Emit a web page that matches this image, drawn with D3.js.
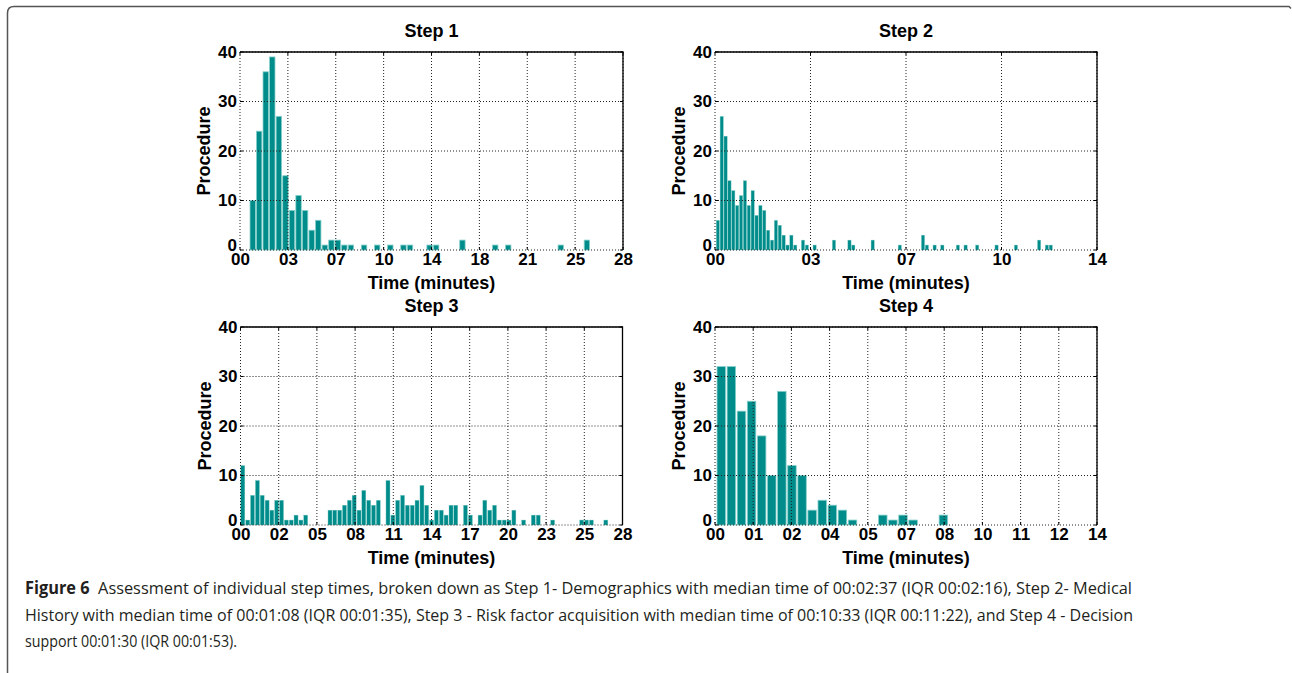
<!DOCTYPE html>
<html><head><meta charset="utf-8">
<script src="https://cdn.jsdelivr.net/npm/d3@7"></script>
<style>body{margin:0;background:#fff} svg{display:block}</style>
</head><body><svg id="c" width="1292" height="673"></svg>
<script>
// ---------- DATA ----------
const titles = ["Step 1", "Step 2", "Step 3", "Step 4"];
const xLabel = "Time (minutes)";
const yLabel = "Procedure";

// bin centres (minutes) and counts of procedures
const step1Times  = [0.93,1.40,1.88,2.36,2.84,3.32,3.80,4.28,4.76,5.24,5.72,6.20,6.68,7.15,7.63,8.11,9.07,10.03,10.99,11.95,12.43,13.86,14.34,16.26,18.66,19.61,23.45,25.36];
const step1Counts = [10,24,36,39,27,15,8,11,8,4,6,1,2,2,1,1,1,1,1,1,1,1,1,2,1,1,1,2];

const step2Times  = [0.104,0.246,0.388,0.530,0.671,0.813,0.955,1.097,1.239,1.381,1.523,1.665,1.806,1.948,2.090,2.232,2.374,2.516,2.658,2.800,2.941,3.225,3.367,3.651,4.360,4.928,5.069,5.779,6.772,7.623,7.765,8.049,8.332,8.900,9.184,9.609,10.319,11.028,11.879,12.163,12.305];
const step2Counts = [6,27,23,14,12,9,11,14,9,12,7,9,8,4,2,6,5,3,1,3,1,2,1,1,2,2,1,2,1,3,1,1,1,1,1,1,1,1,2,1,1];

const step3Times  = [0.17,0.53,0.88,1.24,1.59,1.95,2.30,2.65,3.01,3.36,3.72,4.07,4.43,4.78,6.56,6.91,7.27,7.62,7.98,8.33,8.69,9.04,9.40,9.75,10.10,10.81,11.17,11.52,11.88,12.23,12.59,12.94,13.30,13.65,14.01,14.36,14.72,15.07,15.43,15.78,16.49,16.85,17.56,17.91,18.27,18.62,18.98,19.33,19.68,20.04,20.75,21.46,21.82,22.88,25.01,25.36,25.72,26.78];
const step3Counts = [12,1,6,9,6,5,3,5,5,1,1,2,1,2,3,3,3,4,5,6,3,7,5,4,5,9,2,5,6,4,4,5,8,4,1,3,3,2,4,4,4,2,2,5,3,4,1,1,1,3,1,2,2,1,1,1,1,1];

const step4Times  = [0.23,0.60,0.97,1.34,1.71,2.08,2.45,2.82,3.19,3.56,3.93,4.30,4.67,5.04,6.15,6.52,6.89,7.26,8.37];
const step4Counts = [32,32,23,25,18,10,27,12,10,3,5,4,3,1,2,1,2,1,2];

const xMaxes = [28, 14, 28, 14];
const step1TickLabels = ["00","03","07","10","14","18","21","25","28"];
const step2TickLabels = ["00","03","07","10","14"];
const step3TickLabels = ["00","02","05","08","11","14","17","20","23","25","28"];
const step4TickLabels = ["00","01","02","04","05","07","08","10","11","12","14"];
const yTicks = [0, 10, 20, 30, 40];

const captionBold = "Figure 6";
const captionLines = [
  "Assessment of individual step times, broken down as Step 1- Demographics with median time of 00:02:37 (IQR 00:02:16), Step 2- Medical",
  "History with median time of 00:01:08 (IQR 00:01:35), Step 3 - Risk factor acquisition with median time of 00:10:33 (IQR 00:11:22), and Step 4 - Decision",
  "support 00:01:30 (IQR 00:01:53)."
];

// ---------- LAYOUT ----------
const series = [
  {times: step1Times, counts: step1Counts, labels: step1TickLabels},
  {times: step2Times, counts: step2Counts, labels: step2TickLabels},
  {times: step3Times, counts: step3Counts, labels: step3TickLabels},
  {times: step4Times, counts: step4Counts, labels: step4TickLabels}
];
const boxes = [
  {x0: 240, x1: 623, y0: 52, y1: 250},
  {x0: 715, x1: 1097, y0: 52, y1: 250},
  {x0: 240.5, x1: 622.5, y0: 327, y1: 525},
  {x0: 715, x1: 1097, y0: 327, y1: 525}
];

const svg = d3.select("#c");
const FONT = "'Liberation Sans', Arial, sans-serif";
const barFill = "#008c8a", barEdge = "#86cfcb";

// figure frame
svg.append("path")
  .attr("d", "M7.5,673 L7.5,13 Q7.5,6.5 14,6.5 L1289,6.5 L1291,8.5")
  .attr("fill", "none").attr("stroke", "#555").attr("stroke-width", 1.5);

series.forEach((s, k) => {
  const b = boxes[k];
  const x = d3.scaleLinear().domain([0, xMaxes[k]]).range([b.x0, b.x1]);
  const y = d3.scaleLinear().domain([0, 40]).range([b.y1, b.y0]);
  const nT = s.labels.length - 1;
  const xTicks = d3.range(nT + 1).map(i => xMaxes[k] * i / nT);
  const g = svg.append("g");

  // bars
  const diffs = d3.pairs(s.times).map(([a, c]) => c - a);
  const bw = d3.min(diffs);
  const pxW = (x(bw) - x(0));
  const barW = pxW * 0.84;
  g.selectAll("rect.bar").data(s.times.map((t, i) => ({t, c: s.counts[i]})))
    .join("rect").attr("class", "bar")
    .attr("x", d => x(d.t) - barW / 2)
    .attr("width", barW)
    .attr("y", d => y(d.c))
    .attr("height", d => y(0) - y(d.c))
    .attr("fill", barFill)
    .attr("stroke", barEdge)
    .attr("stroke-width", pxW < 6 ? 0.4 : 0.8);

  // dotted grid (including left/bottom edges)
  const grid = g.append("g").attr("stroke", "#222").attr("stroke-width", 1)
    .attr("stroke-dasharray", "1,2").attr("fill", "none");
  xTicks.forEach(v => grid.append("line")
    .attr("x1", x(v)).attr("x2", x(v)).attr("y1", b.y0).attr("y2", b.y1));
  yTicks.forEach(v => grid.append("line")
    .attr("x1", b.x0).attr("x2", b.x1).attr("y1", y(v)).attr("y2", y(v)));

  // solid top & right frame
  g.append("path")
    .attr("d", `M${b.x0},${b.y0} L${b.x1},${b.y0} L${b.x1},${b.y1}`)
    .attr("fill", "none").attr("stroke", "#000").attr("stroke-width", 1.3);

  // inward tick marks
  const tk = g.append("g").attr("stroke", "#000").attr("stroke-width", 1);
  xTicks.forEach(v => {
    tk.append("line").attr("x1", x(v)).attr("x2", x(v)).attr("y1", b.y1).attr("y2", b.y1 - 3);
    tk.append("line").attr("x1", x(v)).attr("x2", x(v)).attr("y1", b.y0).attr("y2", b.y0 + 3);
  });
  yTicks.forEach(v => {
    tk.append("line").attr("x1", b.x0).attr("x2", b.x0 + 3).attr("y1", y(v)).attr("y2", y(v));
    tk.append("line").attr("x1", b.x1).attr("x2", b.x1 - 3).attr("y1", y(v)).attr("y2", y(v));
  });

  // axes tick labels via d3 axes (domain hidden)
  const xAxis = d3.axisBottom(x).tickValues(xTicks).tickSize(0).tickPadding(4)
    .tickFormat((d, i) => s.labels[i]);
  const xg = g.append("g").attr("transform", `translate(0,${b.y1})`).call(xAxis);
  xg.select(".domain").remove();
  xg.selectAll("text").attr("font-family", FONT).attr("font-weight", "bold")
    .attr("font-size", 17).attr("fill", "#000").attr("dy", "0.64em");

  const yAxis = d3.axisLeft(y).tickValues(yTicks).tickSize(0).tickPadding(3)
    .tickFormat(d3.format("d"));
  const yg = g.append("g").attr("transform", `translate(${b.x0},0)`).call(yAxis);
  yg.select(".domain").remove();
  yg.selectAll("text").attr("font-family", FONT).attr("font-weight", "bold")
    .attr("font-size", 17).attr("fill", "#000")
    .attr("dy", d => d === 0 ? "0.05em" : "0.32em");

  // titles and axis labels
  const cx = (b.x0 + b.x1) / 2, cy = (b.y0 + b.y1) / 2;
  g.append("text").attr("x", cx).attr("y", b.y0 - 15).attr("text-anchor", "middle")
    .attr("font-family", FONT).attr("font-weight", "bold").attr("font-size", 18)
    .text(titles[k]);
  g.append("text").attr("x", cx).attr("y", b.y1 + 39).attr("text-anchor", "middle")
    .attr("font-family", FONT).attr("font-weight", "bold").attr("font-size", 18)
    .text(xLabel);
  g.append("text").attr("transform", `translate(${b.x0 - 30},${cy}) rotate(-90)`)
    .attr("text-anchor", "middle").attr("font-family", FONT).attr("font-weight", "bold")
    .attr("font-size", 18).text(yLabel);
});

// caption
const capFont = "'Open Sans', 'Noto Sans', sans-serif";
const capBase = [594, 620.5, 647];
const capLen = [1107, 1108, 212];
captionLines.forEach((line, i) => {
  const t = svg.append("text").attr("x", 25).attr("y", capBase[i])
    .attr("font-family", capFont).attr("font-size", 17).attr("fill", "#231f20")
    .attr("textLength", capLen[i]).attr("lengthAdjust", "spacingAndGlyphs");
  if (i === 0) {
    t.append("tspan").attr("font-weight", "bold").text(captionBold);
    t.append("tspan").text("\u00a0\u00a0" + line);
  } else {
    t.text(line);
  }
});
</script>
</body></html>
